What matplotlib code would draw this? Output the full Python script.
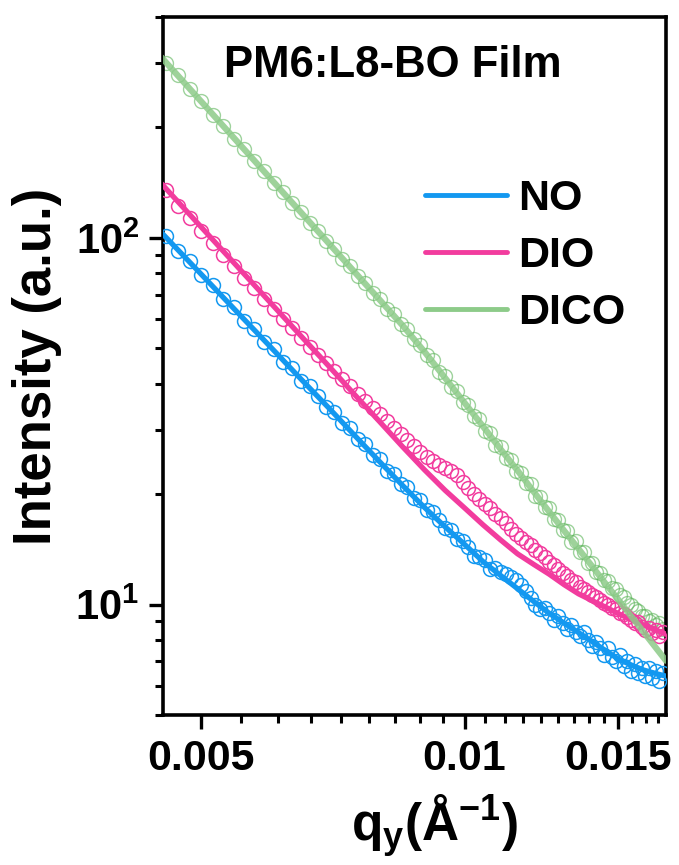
import matplotlib
matplotlib.use('Agg')
import matplotlib.pyplot as plt
from matplotlib.ticker import FixedLocator, FixedFormatter, NullFormatter

plt.rcParams['font.family'] = ['Liberation Sans', 'DejaVu Sans']
plt.rcParams['font.weight'] = 'bold'
plt.rcParams['mathtext.fontset'] = 'custom'
plt.rcParams['mathtext.rm'] = 'Liberation Sans:bold'
plt.rcParams['mathtext.bf'] = 'Liberation Sans:bold'
plt.rcParams['mathtext.it'] = 'Liberation Sans:bold'
plt.rcParams['mathtext.default'] = 'bf'

# ---------------- data ----------------
q = [0.00455, 0.00470, 0.00485, 0.00500, 0.00515, 0.00530, 0.00545, 0.00560, 0.00575, 0.00590,
     0.00605, 0.00620, 0.00635, 0.00650, 0.00665, 0.00680, 0.00695, 0.00710, 0.00725, 0.00740,
     0.00755, 0.00770, 0.00785, 0.00800, 0.00815, 0.00830, 0.00845, 0.00860, 0.00875, 0.00890,
     0.00905, 0.00920, 0.00935, 0.00950, 0.00965, 0.00980, 0.00995, 0.01010, 0.01025, 0.01040,
     0.01055, 0.01070, 0.01085, 0.01100, 0.01115, 0.01130, 0.01145, 0.01160, 0.01175, 0.01190,
     0.01205, 0.01220, 0.01235, 0.01250, 0.01265, 0.01280, 0.01295, 0.01310, 0.01325, 0.01340,
     0.01355, 0.01370, 0.01385, 0.01400, 0.01415, 0.01430, 0.01445, 0.01460, 0.01475, 0.01490,
     0.01505, 0.01520, 0.01535, 0.01550, 0.01565, 0.01580, 0.01595, 0.01610, 0.01625, 0.01640,
     0.01655, 0.01670, 0.01685]

no_data = [101, 92.0, 86.5, 79.0, 74.2, 68.2, 64.6, 59.5, 56.4, 52.0,
           49.8, 46.0, 44.1, 40.8, 39.4, 37.0, 34.5, 33.5, 31.2, 30.3,
           28.2, 27.4, 25.5, 24.9, 23.2, 22.7, 21.3, 20.9, 19.5, 19.3,
           18.1, 17.9, 17.0, 16.2, 16.0, 15.1, 14.9, 14.4, 13.6, 13.5,
           13.2, 12.5, 12.6, 12.3, 12.1, 11.9, 11.7, 11.3, 10.9, 10.4,
           10.0, 9.7, 9.8, 9.5, 9.1, 9.3, 8.9, 8.6, 8.8, 8.4,
           8.2, 8.4, 8.0, 7.7, 7.9, 7.6, 7.3, 7.6, 7.2, 7.0,
           7.3, 6.8, 7.0, 6.6, 6.9, 6.5, 6.7, 6.4, 6.7, 6.3,
           6.6, 6.2, 6.5]

dio_data = [135, 122, 113, 104.5, 96.5, 89.8, 83.6, 77.8, 72.8, 68.0,
            63.9, 60.0, 56.6, 53.4, 50.5, 47.9, 45.6, 43.3, 41.3, 39.4,
            37.6, 35.9, 34.4, 33.0, 31.6, 30.3, 29.2, 28.1, 27.0, 26.0,
            25.3, 24.6, 24.0, 23.6, 23.1, 22.5, 21.6, 20.8, 20.0, 19.4,
            18.8, 18.3, 17.7, 17.2, 16.7, 16.1, 15.6, 15.2, 14.8, 14.5,
            14.1, 13.8, 13.5, 13.1, 12.8, 12.5, 12.2, 12.0, 11.7, 11.5,
            11.2, 11.0, 10.8, 10.6, 10.5, 10.3, 10.1, 9.95, 9.80, 9.70,
            9.50, 9.40, 9.25, 9.10, 8.90, 8.95, 8.70, 8.55, 8.65, 8.35,
            8.50, 8.20, 8.40]

dico_data = [300, 278, 254, 236, 216, 202, 186, 175, 162, 152,
             141, 133.5, 124.5, 117.8, 110, 104.6, 97.8, 93.3, 87.4, 83.7,
             78.5, 75.3, 70.7, 68.1, 64.1, 61.9, 58.2, 56.3, 53.0, 51.1,
             47.8, 46.3, 43.2, 42.0, 39.2, 38.2, 35.7, 34.9, 32.6, 32.0,
             29.8, 29.3, 27.3, 26.9, 25.1, 24.8, 23.2, 22.9, 21.4, 21.3,
             19.8, 19.7, 18.4, 18.3, 17.1, 17.0, 16.0, 15.9, 14.8, 14.9,
             13.9, 13.9, 13.0, 13.0, 12.3, 12.2, 11.7, 11.6, 11.1, 11.0,
             10.6, 10.5, 10.1, 10.0, 9.7, 9.6, 9.3, 9.3, 9.0, 9.1,
             8.8, 8.9, 8.6]

q_fit = [0.0045, 0.0050, 0.0055, 0.0060, 0.0065, 0.0070, 0.0075, 0.0080, 0.0085, 0.0090,
         0.0095, 0.0100, 0.0105, 0.0110, 0.0115, 0.0120, 0.0125, 0.0130, 0.0135, 0.0140,
         0.0145, 0.0150, 0.0155, 0.0160, 0.0165, 0.0170]
no_fit = [103.4, 79.5, 62.6, 50.4, 41.2, 34.3, 28.8, 24.5, 21.1, 18.4,
          16.3, 14.6, 13.1, 12.0, 11.05, 10.2, 9.47, 8.90, 8.39, 7.92,
          7.49, 7.10, 6.85, 6.64, 6.50, 6.38]
dio_fit = [140.6, 106.9, 83.4, 66.5, 54.0, 44.6, 37.2, 31.5, 26.9, 23.3,
           20.5, 18.35, 16.5, 15.0, 13.75, 12.87, 12.1, 11.33, 10.7, 10.25,
           9.84, 9.45, 9.10, 8.80, 8.55, 8.30]
dico_fit = [310.7, 235.1, 182.6, 145.0, 117.3, 96.4, 80.3, 67.7, 57.6, 48.9,
            41.5, 35.5, 30.6, 26.5, 23.2, 20.3, 17.9, 15.9, 14.2, 12.7,
            11.4, 10.3, 9.31, 8.46, 7.70, 7.03]

labels = ['NO', 'DIO', 'DICO']
x_ticks = [0.005, 0.01, 0.015]
x_ticklabels = ['0.005', '0.01', '0.015']
y_ticks = [10, 100]
y_ticklabels = [r'$10^{1}$', r'$10^{2}$']
title = 'PM6:L8-BO Film'

# ---------------- styles ----------------
c_blue = '#1398F0'
c_pink = '#F23C9E'
c_green_line = '#8DCB89'
c_green_mk = '#5DB55A'

fig = plt.figure(figsize=(6.79, 8.65), dpi=100)
ax = fig.add_axes([163/679, 1-715/865, 503/679, 698/865])
ax.set_xscale('log')
ax.set_yscale('log')

mk = dict(marker='o', ls='none', ms=10, mfc='none')
ax.plot(q, dico_data, mec=c_green_mk, mew=1.0, alpha=0.6, **mk, zorder=2)
ax.plot(q, dio_data, mec=c_pink, mew=1.1, **mk, zorder=3)
ax.plot(q, no_data, mec=c_blue, mew=1.1, **mk, zorder=3)

l1, = ax.plot(q_fit, no_fit, color=c_blue, lw=3.8, solid_capstyle='round', zorder=4)
l2, = ax.plot(q_fit, dio_fit, color=c_pink, lw=3.8, solid_capstyle='round', zorder=4)
l3, = ax.plot(q_fit, dico_fit, color=c_green_line, lw=4.5, alpha=0.85, solid_capstyle='round', zorder=4)

ax.set_xlim(0.00452, 0.0170)
ax.set_ylim(5.0, 400)

ax.xaxis.set_major_locator(FixedLocator(x_ticks))
ax.xaxis.set_major_formatter(FixedFormatter(x_ticklabels))
minor_x = []
for a, b in [(0.0, 0.005), (0.005, 0.01), (0.01, 0.015), (0.015, 0.02)]:
    for i in range(1, 9):
        minor_x.append(a + (b - a) * i / 9)
ax.xaxis.set_minor_locator(FixedLocator(minor_x))
ax.xaxis.set_minor_formatter(NullFormatter())

ax.yaxis.set_major_locator(FixedLocator(y_ticks))
ax.yaxis.set_major_formatter(FixedFormatter(y_ticklabels))
minor_y = [m * d for d in [1, 10, 100] for m in range(2, 10)]
ax.yaxis.set_minor_locator(FixedLocator(minor_y))
ax.yaxis.set_minor_formatter(NullFormatter())

for s in ax.spines.values():
    s.set_linewidth(2.6)
ax.tick_params(which='major', direction='out', length=10, width=2.4, pad=7)
ax.tick_params(axis='x', which='major', labelsize=31)
ax.tick_params(axis='y', which='major', labelsize=30)
ax.tick_params(which='minor', direction='out', length=6, width=2.2)
ax.tick_params(top=False, right=False, which='both')

ax.set_ylabel('Intensity (a.u.)', fontsize=38, fontweight='bold')
ax.yaxis.set_label_coords(-0.20, 0.5)
ax.set_xlabel(r'q$_{y}$(Å$^{-1}$)', fontsize=37, fontweight='bold')
ax.xaxis.set_label_coords(0.54, -0.158)
ax.xaxis.label.set_va('center')

ax.text(0.457, 0.93, title, transform=ax.transAxes, ha='center', va='center',
        fontsize=31.5, fontweight='bold')

leg = ax.legend([l1, l2, l3], labels, loc='upper left', bbox_to_anchor=(0.521, 0.768),
                frameon=False, fontsize=31, handlelength=1.9, handletextpad=0.25,
                labelspacing=0.4, borderpad=0, borderaxespad=0)
for t in leg.get_texts():
    t.set_fontweight('bold')
for h in leg.legend_handles:
    h.set_linewidth(3.5)
    h.set_alpha(1)

fig.savefig('out.png', dpi=100)
